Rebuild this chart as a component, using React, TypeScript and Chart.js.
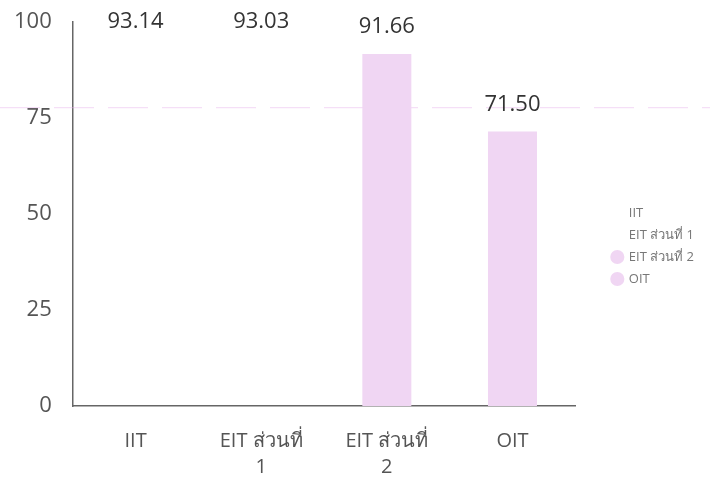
import React, { useEffect, useRef } from 'react';
import { Chart, registerables, layouts } from 'chart.js';

Chart.register(...registerables);

const categories = ['IIT', 'EIT ส่วนที่ 1', 'EIT ส่วนที่ 2', 'OIT'];
const tickLabels = [['IIT'], ['EIT ส่วนที่', '1'], ['EIT ส่วนที่', '2'], ['OIT']];
const values = [93.14, 93.03, 91.66, 71.5];
const barColors = ['rgba(255,255,255,0)', 'rgba(255,255,255,0)', '#f0d6f3', '#f0d6f3'];
const yTickValues = [0, 25, 50, 75, 100];
const guideValue = 77.7;

const FONT = "'Open Sans', 'Noto Sans', sans-serif";
const LEGEND_GAP = 28;

const valueLabelPlugin = {
  id: 'valueLabels',
  afterDatasetsDraw(chart: any) {
    const ctx = chart.ctx;
    const meta = chart.getDatasetMeta(0);
    ctx.save();
    ctx.font = `22px ${FONT}`;
    ctx.fillStyle = '#333333';
    ctx.textAlign = 'center';
    ctx.textBaseline = 'middle';
    meta.data.forEach((bar: any, i: number) => {
      ctx.fillText(values[i].toFixed(2), bar.x, bar.y - 27);
    });
    ctx.restore();
  },
};

const guidePlugin = {
  id: 'guideLine',
  beforeDatasetsDraw(chart: any) {
    const ctx = chart.ctx;
    const y = chart.scales.y.getPixelForValue(guideValue);
    ctx.save();
    ctx.strokeStyle = 'rgba(232, 176, 236, 0.5)';
    ctx.lineWidth = 1;
    ctx.setLineDash([40, 14]);
    ctx.beginPath();
    ctx.moveTo(0, y);
    ctx.lineTo(chart.width, y);
    ctx.stroke();
    ctx.restore();
  },
};

const spacerPlugin = {
  id: 'legendSpacer',
  beforeInit(chart: any) {
    const box: any = {
      position: 'right',
      weight: 500,
      fullSize: false,
      options: { stackWeight: 1 },
      width: 0,
      height: 0,
      left: 0,
      top: 0,
      right: 0,
      bottom: 0,
      update(_maxWidth: number, maxHeight: number) {
        this.width = LEGEND_GAP;
        this.height = maxHeight;
      },
      isHorizontal() {
        return false;
      },
      draw() {},
    };
    layouts.addBox(chart, box);
  },
};

export default function App() {
  const canvasRef = useRef<HTMLCanvasElement | null>(null);

  useEffect(() => {
    if (!canvasRef.current) return;
    const chart = new Chart(canvasRef.current, {
      type: 'bar',
      data: {
        labels: tickLabels as any,
        datasets: [
          {
            label: 'values',
            data: values,
            backgroundColor: barColors,
            borderWidth: 0,
            barPercentage: 0.39,
            categoryPercentage: 1,
          },
        ],
      },
      options: {
        animation: false,
        responsive: true,
        maintainAspectRatio: false,
        layout: { padding: { top: -10, left: -7, right: 6, bottom: -12 } },
        plugins: {
          tooltip: { enabled: false },
          legend: {
            position: 'right',
            onClick: () => {},
            labels: {
              usePointStyle: true,
              pointStyle: 'circle',
              boxWidth: 10,
              boxHeight: 10,
              padding: 9,
              color: '#777777',
              font: { family: FONT, size: 13 },
              generateLabels: () =>
                categories.map((c, i) => ({
                  text: c,
                  fillStyle: barColors[i],
                  strokeStyle: barColors[i],
                  lineWidth: 0,
                  pointStyle: 'circle',
                  hidden: false,
                  index: i,
                  datasetIndex: 0,
                  fontColor: '#777777',
                })) as any,
            },
          },
        },
        scales: {
          x: {
            grid: { display: false, drawTicks: false },
            border: { display: true, color: '#666666', width: 1.5 },
            ticks: {
              color: '#555555',
              padding: 22,
              font: { family: FONT, size: 20, lineHeight: 1.3 },
            },
          },
          y: {
            min: 0,
            max: 100,
            afterBuildTicks: (axis: any) => {
              axis.ticks = yTickValues.map((v) => ({ value: v }));
            },
            grid: { display: false, drawTicks: false },
            border: { display: true, color: '#666666', width: 1.5 },
            ticks: {
              color: '#555555',
              padding: 21,
              font: { family: FONT, size: 22, lineHeight: 0.1 },
            },
          },
        },
      },
      plugins: [spacerPlugin, guidePlugin, valueLabelPlugin],
    });
    return () => chart.destroy();
  }, []);

  return (
    <div style={{ position: 'fixed', left: 0, top: 0, width: 710, height: 490, background: '#ffffff' }}>
      <canvas ref={canvasRef} />
    </div>
  );
}
